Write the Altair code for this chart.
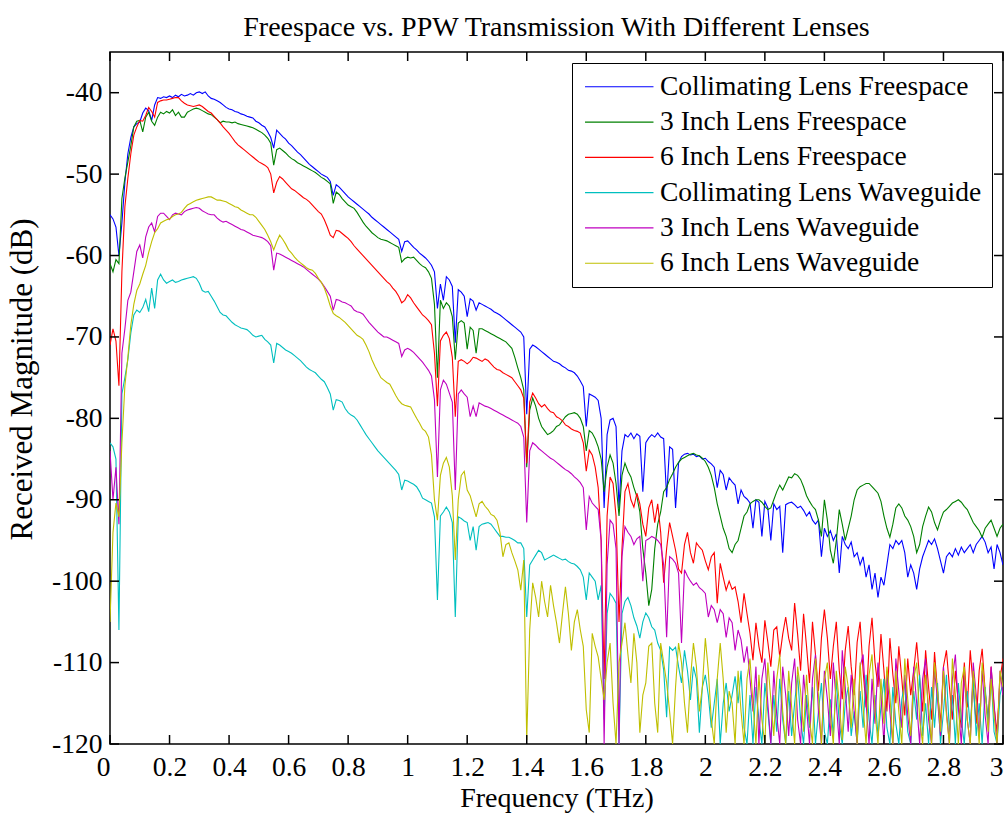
import altair as alt
import pandas as pd

# ---------------- data ----------------
FREQ = [round(i * 0.01, 2) for i in range(301)]  # THz sampling grid

SERIES = [
    "Collimating Lens Freespace",
    "3 Inch Lens Freespace",
    "6 Inch Lens Freespace",
    "Collimating Lens Waveguide",
    "3 Inch Lens Waveguide",
    "6 Inch Lens Waveguide",
]
COLORS = ["#0000ff", "#008000", "#ff0000", "#00bfbf", "#bf00bf", "#bfbf00"]

X_TICKS = [0, 0.2, 0.4, 0.6, 0.8, 1, 1.2, 1.4, 1.6, 1.8, 2, 2.2, 2.4, 2.6, 2.8, 3]
Y_TICKS = [-120, -110, -100, -90, -80, -70, -60, -50, -40]

COLL_FREE = [
    -55, -55.5, -56.5, -60, -56, -51, -47.5, -45.5, -44.2, -43.8,
    -43.6, -42.5, -41.9, -42.2, -43.4, -41.5, -40.6, -40.7, -40.5, -40.6,
    -40.4, -40.6, -40.3, -40.5, -40.2, -40.4, -40.3, -40.1, -40.3, -40.0,
    -39.9, -40.1, -39.9, -40.4, -40.7, -40.8, -41.0, -41.2, -41.5, -41.8,
    -42.0, -42.1, -42.3, -42.4, -42.6, -42.7, -42.9, -43.0, -43.1, -43.5,
    -43.7, -44.0, -44.2, -44.8, -45.5, -46.8, -44.6, -45.0, -45.4, -45.7,
    -46.2, -46.5, -46.9, -47.3, -47.6, -48.0, -48.4, -48.8, -49.1, -49.4,
    -49.7, -50.0, -50.2, -50.4, -50.9, -52.6, -51.3, -51.6, -52.0, -52.4,
    -52.8, -53.1, -53.4, -53.7, -54.0, -54.3, -54.6, -54.9, -55.3, -55.6,
    -55.9, -56.2, -56.5, -56.8, -57.1, -57.4, -57.7, -58.0, -59.5, -58.3,
    -58.2, -58.6, -59.0, -59.3, -59.7, -60.0, -60.3, -60.7, -61.2, -62.0,
    -66.5, -63.5, -65.5, -62.6, -63.0, -63.8, -70.7, -64.2, -64.5, -65.0,
    -67.5, -65.3, -65.6, -66.7, -65.8, -66.0, -66.2, -66.4, -66.6, -66.9,
    -67.1, -67.3, -67.6, -67.9, -68.2, -68.5, -68.8, -69.1, -69.4, -70.0,
    -79.5, -71.5, -71.0, -71.2, -71.5, -71.8, -72.1, -72.4, -72.7, -73.0,
    -73.1, -73.3, -73.6, -73.8, -74.1, -74.2, -74.4, -74.8, -75.4, -76.1,
    -81.0, -77.0, -77.2, -77.4, -77.8, -80.0, -91.0, -82.0, -80.2, -80.0,
    -81.0, -91.0, -84.0, -82.0, -82.3, -81.8, -82.5, -81.9, -82.2, -89.0,
    -83.0, -82.4, -82.0, -82.3, -81.8, -82.3, -82.5, -89.7, -83.5, -83.8,
    -91.0, -85.5, -84.7, -84.4, -84.3, -84.5, -84.4, -84.7, -84.6, -85.0,
    -84.9, -85.3, -85.6, -86.0, -88.5, -86.4, -86.9, -88.8, -87.3, -87.8,
    -88.2, -90.5, -88.8, -89.6, -89.9, -90.4, -93.5, -90.0, -90.3, -94.5,
    -90.2, -91.0, -95.0, -90.5, -91.2, -90.8, -96.5, -90.6, -90.4, -90.3,
    -90.6, -91.0, -90.8, -91.3, -92.0, -91.5, -92.5, -93.0, -92.5, -97.0,
    -93.5, -94.5, -93.8, -95.0, -94.2, -99.0, -94.5, -95.5, -96.0, -95.2,
    -97.0, -96.5, -98.0, -97.0, -99.5, -98.0, -101.0, -99.0, -102.0, -99.5,
    -100.5, -98.0, -95.5, -96.0, -95.0, -95.5, -95.0, -96.5, -99.5, -98.0,
    -99.0, -101.0, -98.5, -97.0, -96.0, -95.0, -95.5, -94.8, -96.0, -97.5,
    -99.0, -97.0, -96.5, -97.0, -96.0, -96.8, -95.8, -96.5, -96.0, -95.5,
    -96.5, -95.5, -95.0, -94.5, -95.2, -96.5, -95.8, -98.5, -95.5, -96.5,
    -98.0,
]

INCH3_FREE = [
    -61, -62, -60.5, -61, -53, -50.5, -48.5, -46.5, -44.2, -43.5,
    -43.4, -44.8, -43.0, -42.4, -43.5, -44.0, -43.0, -42.4, -42.6, -42.3,
    -42.5, -42.1, -42.8, -42.4, -43.0, -43.0, -42.4, -42.2, -42.0, -41.9,
    -42.0, -42.2, -42.4, -42.6, -42.7, -43.0, -43.3, -43.7, -43.5, -43.6,
    -43.6, -43.7, -43.6, -43.8, -43.9, -44.0, -44.1, -44.2, -44.3, -44.5,
    -44.7, -44.9, -45.2, -45.6, -46.2, -48.9, -47.0, -46.8, -47.1, -47.4,
    -47.8, -48.1, -48.3, -48.6, -48.8, -49.0, -49.2, -49.4, -49.6, -49.8,
    -50.1, -50.4, -50.6, -50.9, -51.2, -53.6, -52.2, -52.5, -53.0, -53.4,
    -53.8, -54.0, -54.2, -54.7, -55.3, -55.9, -56.4, -56.8, -57.2, -57.5,
    -57.8, -58.0, -58.1, -58.2, -58.4, -58.6, -58.8, -59.0, -60.8, -60.4,
    -60.2, -60.3, -60.2, -60.6, -61.0, -61.3, -61.5, -62.0, -62.8, -66.0,
    -75.0, -65.5, -66.5, -65.8, -66.2, -67.5, -72.8, -68.3, -68.0, -68.3,
    -71.5, -68.8, -69.2, -72.0, -69.0, -69.0, -69.2, -69.4, -69.6, -69.8,
    -70.0, -70.2, -70.4, -70.6, -71.0, -71.4, -72.5, -73.8, -75.0, -76.5,
    -86.0, -79.0, -77.5, -78.5, -80.0, -81.0, -81.5, -82.0, -81.8, -81.5,
    -81.0, -80.8, -80.3, -79.8, -79.5, -79.4, -79.3, -79.5, -80.0, -81.0,
    -84.0, -81.5, -81.8, -82.5, -83.5, -85.0, -89.0, -86.0, -84.5, -85.5,
    -88.0, -92.0, -87.0, -85.5, -86.5, -87.2, -88.5, -89.6, -91.5, -96.0,
    -99.0, -103.0, -101.0, -96.0, -93.0, -91.5, -89.0, -88.5, -87.5, -86.8,
    -86.0, -85.4, -85.0, -84.8, -84.6, -84.4, -84.3, -84.5, -84.6, -84.9,
    -85.3, -86.0, -87.0, -88.5, -90.5, -92.0, -93.5, -94.5, -96.0, -96.5,
    -95.5, -95.0, -93.5, -92.0, -91.5, -90.5, -90.2, -90.0, -90.0, -90.3,
    -90.8, -91.2, -91.0, -90.0, -89.0, -88.2, -88.8, -88.0, -87.2, -87.3,
    -86.8, -87.0, -87.5, -88.4, -89.5, -90.2, -90.8, -91.2, -92.5, -94.5,
    -90.0, -92.5, -96.2, -97.8, -95.0, -91.2, -93.0, -95.0, -93.5, -92.0,
    -90.0, -88.8, -88.4, -88.2, -88.0, -88.0, -88.4, -88.8, -89.2, -90.2,
    -92.0, -93.5, -94.6, -93.0, -91.0, -90.5, -91.0, -92.0, -92.5, -93.3,
    -94.5, -96.5, -95.5, -93.3, -92.0, -90.9, -91.5, -92.8, -93.7, -92.5,
    -91.5, -91.2, -90.8, -90.4, -90.2, -90.0, -90.3, -90.8, -91.2, -92.0,
    -92.8, -93.3, -93.8, -94.6, -93.5, -93.0, -92.5, -93.5, -94.5, -93.5,
    -93.0,
]

INCH6_FREE = [
    -71, -69, -70.5, -76, -62, -54, -50.5, -47.5, -45.2, -44.2,
    -43.4, -43.5, -42.8, -41.8, -42.3, -43.0, -41.2, -41.0, -40.9, -40.9,
    -40.8, -40.7, -40.6, -40.6, -41.0, -41.3, -41.5, -41.6, -41.7, -41.6,
    -41.5, -41.7, -42.0, -42.3, -42.5, -42.9, -43.3, -43.7, -44.2, -44.6,
    -45.0, -45.5, -46.0, -46.4, -46.7, -47.0, -47.3, -47.6, -47.9, -48.2,
    -48.5, -48.7, -48.9, -49.2, -50.0, -52.3, -51.0, -50.3, -50.6, -51.0,
    -51.4, -51.8, -52.0, -52.3, -52.6, -52.9, -53.1, -53.4, -53.8, -54.2,
    -54.6, -54.9, -55.6, -56.5, -57.5, -57.8, -56.9, -57.0, -57.3, -57.6,
    -57.9, -58.3, -58.8, -59.2, -59.6, -60.0, -60.4, -60.8, -61.2, -61.6,
    -62.0, -62.4, -62.8, -63.2, -63.5, -64.0, -64.4, -65.0, -65.8, -65.5,
    -64.8, -65.2, -65.8, -66.3, -66.8, -67.3, -67.6, -68.0, -68.5, -72.0,
    -78.5, -70.5, -69.8, -69.4, -70.2, -72.5, -79.8, -73.0, -72.8, -73.0,
    -73.3, -73.0, -72.5, -72.6, -72.8, -73.0, -72.7, -72.9, -73.3, -73.7,
    -74.0, -74.1, -74.4, -74.6, -74.8, -75.0, -75.5, -76.0, -76.5, -77.5,
    -85.5, -78.0, -76.9, -77.5, -78.2, -78.6, -78.3, -78.8, -79.2, -79.3,
    -79.8, -80.0, -80.3, -80.8, -81.0, -81.3, -81.5, -81.6, -81.8, -83.0,
    -86.5, -83.9, -84.5, -86.0, -88.5, -95.0, -112.0, -92.0, -87.2, -88.0,
    -92.0, -105.0, -96.0, -89.0, -88.0, -90.0, -90.9, -89.2, -90.5, -93.0,
    -94.5, -91.0, -90.0, -92.8, -90.5, -94.0, -100.2, -96.0, -92.8, -94.5,
    -96.2, -98.5, -99.0, -95.5, -94.0, -96.5, -97.8, -95.3, -95.8, -96.2,
    -97.5, -98.6, -97.0, -96.5, -102.7, -97.8, -99.5, -101.1, -100.0, -101.0,
    -100.7, -102.5, -105.1, -101.5, -104.0, -106.4, -109.7, -105.1, -108.0, -110.0,
    -104.8, -107.5, -110.5, -106.0, -105.6, -109.3, -106.5, -104.4, -107.0, -108.5,
    -102.7, -106.5, -111.0, -104.0, -108.0, -112.5, -105.0, -109.0, -113.5, -107.0,
    -103.5, -107.0, -112.0, -108.0, -105.0, -111.0, -114.5, -108.5, -105.5, -110.5,
    -114.0, -107.5, -105.0, -111.0, -115.5, -108.0, -104.5, -110.0, -113.0, -106.5,
    -111.0, -116.0, -107.0, -111.5, -115.0, -108.0, -112.0, -116.5, -109.5, -114.0,
    -111.0, -107.5, -112.0, -116.0, -108.5, -113.0, -117.0, -108.7, -113.5, -117.5,
    -110.5, -108.5, -113.0, -117.0, -111.0, -115.0, -118.0, -110.0, -115.5, -108.5,
    -113.0, -117.5, -111.0, -108.3, -113.5, -117.0, -110.5, -115.5, -118.5, -112.0,
    -109.5,
]

COLL_WG = [
    -83, -83.5, -85, -106, -77, -75, -72.8, -69.5, -67.3, -66.7,
    -67.0, -66.4, -65.4, -66.9, -64.0, -66.5, -63.0, -62.3, -63.0, -63.4,
    -63.2, -63.0, -63.3, -63.2, -63.0, -62.9, -62.8, -62.7, -62.6, -62.8,
    -63.4, -64.3, -64.5, -64.4, -65.0, -65.6, -66.3, -67.0, -67.3, -67.4,
    -67.8, -68.2, -68.5, -68.7, -68.9, -69.0, -69.1, -69.4, -69.8, -70.0,
    -69.9, -69.8, -70.3, -70.6, -71.0, -73.2, -70.8, -71.0, -71.3, -71.6,
    -71.8, -72.0, -72.3, -72.6, -72.9, -73.3, -73.7, -74.0, -74.2, -74.4,
    -74.8, -75.2, -75.5, -76.2, -77.0, -79.0, -77.7, -77.8, -78.0, -78.8,
    -79.3, -79.6, -79.8, -80.2, -80.8, -81.4, -82.0, -82.5, -83.0, -83.5,
    -84.0, -84.4, -84.8, -85.2, -85.6, -86.0, -86.4, -86.9, -88.8, -87.6,
    -87.7, -87.9, -88.1, -88.4, -89.0, -89.8, -90.0, -90.2, -90.4, -92.1,
    -102.3, -92.0, -91.5, -90.9, -91.5, -92.8, -104.4, -92.1, -92.3, -92.6,
    -92.8, -95.0, -93.3, -96.2, -93.3, -93.0, -92.9, -92.8, -93.0, -93.5,
    -94.0, -94.5, -94.5, -94.6, -94.6, -94.8, -95.0, -95.3, -95.3, -96.0,
    -104.4, -98.0, -97.4, -96.8, -96.2, -96.5, -97.4, -97.2, -97.0, -96.8,
    -97.0, -97.2, -97.4, -97.3, -97.6, -97.8, -97.9, -98.2, -98.6, -99.5,
    -102.3, -99.0, -99.5, -100.0, -102.3, -100.5, -117.0, -104.0, -101.5, -102.0,
    -102.7, -120.0, -104.0, -102.5, -102.0, -103.0, -104.5, -105.5, -107.0, -105.0,
    -103.9, -104.5, -105.6, -106.0, -107.6, -108.5, -110.9, -116.7, -108.1, -108.5,
    -108.1, -110.5, -112.5, -108.5, -111.0, -114.6, -110.5, -112.0, -118.6, -113.0,
    -111.5, -114.0, -118.0, -115.0, -112.0, -120.0, -115.0, -112.5, -116.0, -114.0,
    -111.7, -115.0, -111.0, -118.0, -120.0, -114.0, -120.0, -113.0, -117.0, -120.0,
    -112.5, -116.0, -120.0, -114.0, -118.5, -112.0, -117.0, -120.0, -113.5, -119.0,
    -115.0, -111.5, -117.0, -120.0, -114.0, -118.0, -113.0, -120.0, -116.0, -112.5,
    -118.5, -120.0, -114.5, -119.0, -112.0, -117.5, -120.0, -115.0, -113.0, -119.0,
    -116.0, -120.0, -113.5, -118.0, -111.5, -117.0, -120.0, -114.0, -119.0, -115.5,
    -112.0, -118.0, -120.0, -113.0, -117.5, -120.0, -114.5, -112.5, -118.5, -120.0,
    -113.5, -117.0, -111.5, -119.0, -115.0, -120.0, -113.0, -118.0, -112.5, -120.0,
    -116.0, -111.5, -118.5, -114.0, -120.0, -112.5, -117.0, -120.0, -113.5, -118.0,
    -112.0, -119.0, -115.0, -120.0, -113.0, -117.5, -111.5, -118.5, -120.0, -114.0,
    -112.5,
]

INCH3_WG = [
    -84, -90, -86, -93, -72, -69, -65.5, -64.5, -62.0, -59.5,
    -58.7, -60.3, -57.7, -56.5, -56.0, -57.1, -55.2, -54.8, -54.8, -55.2,
    -55.6, -55.0, -54.8, -54.9, -55.0, -54.6, -54.4, -54.3, -54.2, -54.1,
    -54.2, -54.5, -54.7, -54.9, -55.0, -55.0, -55.4, -55.7, -55.9, -55.8,
    -56.0, -56.2, -56.4, -56.6, -56.8, -56.9, -57.1, -57.3, -57.5, -57.6,
    -57.7, -57.8, -58.0, -58.3, -58.8, -61.8, -59.7, -59.8, -60.0, -60.2,
    -60.4, -60.6, -60.8, -61.0, -61.2, -61.4, -61.7, -62.0, -62.3, -62.6,
    -62.9, -63.3, -63.8, -64.4, -65.0, -66.7, -65.4, -65.5, -65.7, -65.8,
    -66.0, -66.2, -66.7, -66.9, -67.0, -67.2, -67.7, -68.2, -68.6, -69.0,
    -69.4, -69.7, -70.0, -70.0, -70.2, -70.4, -70.6, -70.8, -72.4, -71.6,
    -71.4, -71.6, -71.9, -72.3, -72.7, -73.1, -73.6, -74.1, -74.8, -77.7,
    -87.2, -76.5, -75.3, -75.8, -76.9, -78.0, -88.8, -77.0, -76.5, -77.0,
    -77.4, -79.8, -78.5, -79.8, -78.1, -78.3, -78.5, -78.6, -78.8, -79.0,
    -79.2, -79.4, -79.6, -79.8, -80.0, -80.2, -80.4, -80.6, -81.0, -82.3,
    -92.8, -84.0, -83.0, -83.3, -83.7, -84.0, -84.3, -84.6, -84.9, -85.1,
    -85.4, -85.7, -86.0, -86.3, -86.5, -86.8, -87.2, -87.5, -87.9, -88.5,
    -93.7, -89.6, -90.4, -90.8, -91.2, -95.0, -120.0, -98.0, -92.5, -93.0,
    -96.0, -120.0, -97.0, -93.3, -94.0, -94.5, -95.5, -94.8, -94.5, -100.0,
    -95.0, -94.8, -94.5, -94.7, -95.0, -95.5, -98.0, -106.9, -97.0, -97.3,
    -97.8, -99.0, -107.6, -98.6, -99.4, -100.0, -100.5, -100.2, -100.8, -101.1,
    -101.5, -104.4, -103.0, -103.5, -105.1, -103.5, -104.0, -106.9, -104.5, -105.1,
    -108.5, -106.0, -107.2, -110.0, -108.0, -112.0, -116.0, -110.5, -120.0, -112.0,
    -109.5, -115.0, -120.0, -111.0, -116.5, -120.0, -110.5, -114.0, -119.0, -112.5,
    -109.5, -117.0, -120.0, -111.5, -115.5, -120.0, -112.0, -109.0, -116.0, -120.0,
    -111.0, -114.5, -119.0, -110.0, -115.0, -120.0, -108.5, -113.0, -118.5, -111.5,
    -116.0, -120.0, -110.5, -109.0, -115.0, -120.0, -112.0, -117.5, -110.0, -114.0,
    -120.0, -111.0, -116.0, -120.0, -109.5, -113.5, -118.0, -111.5, -116.5, -120.0,
    -110.5, -115.0, -120.0, -112.0, -109.5, -117.0, -120.0, -111.0, -114.5, -119.0,
    -110.5, -116.0, -120.0, -112.0, -109.0, -115.5, -120.0, -111.5, -117.0, -120.0,
    -110.0, -114.0, -119.0, -111.0, -116.5, -120.0, -110.5, -115.0, -120.0, -111.0,
    -114.0,
]

INCH6_WG = [
    -105, -94, -90.4, -92.1, -83, -76, -72.5, -68.5, -66.0, -64.3,
    -63.5, -62.3, -61.2, -59.6, -58.3, -57.2, -56.7, -56.0, -55.8, -55.6,
    -55.5, -55.2, -55.0, -54.9, -54.7, -54.2, -53.8, -53.6, -53.4, -53.2,
    -53.1, -53.0, -52.9, -52.8, -52.8, -53.0, -53.2, -53.2, -53.3, -53.4,
    -53.6, -53.8, -54.0, -54.1, -54.4, -54.6, -54.8, -55.0, -55.0, -55.3,
    -55.8, -56.3, -56.8, -57.5, -58.3, -59.3, -58.3, -57.5, -58.0, -58.6,
    -59.3, -59.7, -60.2, -60.6, -60.9, -61.2, -61.5, -61.7, -61.8, -62.2,
    -62.8, -63.3, -64.0, -65.0, -66.2, -67.1, -67.4, -67.6, -67.9, -68.2,
    -68.6, -69.0, -69.4, -69.8, -70.0, -70.3, -71.0, -71.8, -72.8, -73.6,
    -74.3, -75.0, -75.3, -75.6, -75.8, -76.5, -77.2, -77.8, -78.2, -78.4,
    -78.5, -78.6, -79.3, -80.0, -80.6, -81.3, -81.6, -82.3, -84.5, -90.0,
    -92.5, -87.0, -85.5, -84.8, -86.0, -89.5, -97.4, -90.0, -87.0, -86.5,
    -88.8, -89.5, -90.8, -92.1, -90.5, -90.2, -90.8, -91.2, -91.8, -92.0,
    -92.5, -94.0, -97.0, -95.5, -95.3, -96.5, -97.5, -98.6, -101.1, -97.4,
    -119.5, -106.0, -100.2, -102.0, -104.4, -100.0, -102.5, -104.4, -100.5, -103.0,
    -105.1, -107.6, -104.0, -100.7, -104.0, -108.5, -105.0, -103.5, -106.0, -108.0,
    -115.8, -118.6, -106.4, -108.0, -109.3, -112.0, -114.6, -110.0, -107.6, -115.0,
    -120.0, -110.0, -107.6, -105.1, -109.0, -112.5, -106.4, -110.0, -118.6, -114.0,
    -112.5, -108.0, -107.6, -115.0, -118.6, -107.6, -110.0, -112.5, -116.0, -120.0,
    -113.0, -107.6, -110.0, -115.0, -118.6, -112.0, -107.6, -110.5, -116.0, -113.0,
    -107.0, -111.0, -117.0, -120.0, -112.0, -107.6, -112.0, -118.6, -113.5, -115.0,
    -120.0, -111.0, -116.0, -120.0, -112.0, -109.5, -115.0, -120.0, -111.5, -117.0,
    -120.0, -110.0, -114.5, -119.0, -112.0, -109.0, -116.0, -120.0, -111.0, -115.5,
    -120.0, -110.5, -113.5, -118.5, -111.5, -117.0, -120.0, -109.5, -114.0, -120.0,
    -112.0, -110.0, -116.5, -120.0, -111.0, -115.0, -119.5, -110.5, -113.0, -118.0,
    -112.0, -120.0, -110.0, -115.5, -120.0, -111.5, -109.0, -116.0, -120.0, -112.0,
    -117.5, -110.5, -114.0, -120.0, -111.0, -116.0, -120.0, -109.5, -114.5, -119.0,
    -112.0, -110.0, -117.0, -120.0, -111.5, -115.5, -120.0, -110.0, -113.5, -118.5,
    -111.0, -116.5, -120.0, -109.5, -114.0, -120.0, -112.5, -110.5, -117.0, -120.0,
    -111.0, -115.0, -120.0, -110.0, -113.5, -118.5, -112.0, -116.5, -120.0, -111.0,
    -113.0,
]

VALUES = [COLL_FREE, INCH3_FREE, INCH6_FREE, COLL_WG, INCH3_WG, INCH6_WG]

rows = []
for name, vals in zip(SERIES, VALUES):
    assert len(vals) == len(FREQ), (name, len(vals))
    for f, v in zip(FREQ, vals):
        rows.append({"freq": f, "db": v, "series": name})
df = pd.DataFrame(rows)

# ---------------- chart ----------------
W, H = 893, 692
FONT = "Liberation Serif"
TICK_LEN = 9          # MATLAB-style inward tick length, px
TICK_W = 1.5

x_scale = alt.Scale(domain=[0, 3], nice=False, zero=False)
y_scale = alt.Scale(domain=[-120, -35], nice=False, zero=False)
color_scale = alt.Scale(domain=SERIES, range=COLORS)

x_axis_main = alt.Axis(
    orient="bottom", values=X_TICKS, labelExpr="'' + datum.value",
    ticks=False, tickSize=0, domain=False, grid=False,
    labelFont=FONT, labelFontSize=27.5, labelColor="black", labelPadding=9,
    labelAlign={"condition": {"test": "datum.value == 0 || datum.value == 3", "value": "right"}, "value": "center"},
    title="Frequency (THz)", titleFont=FONT, titleFontSize=28, titleFontWeight="normal",
    titleColor="black", titleX=W / 2, titleY=62, titleBaseline="alphabetic", titleAnchor="middle",
)
y_axis_main = alt.Axis(
    orient="left", values=Y_TICKS, labelExpr="'' + datum.value",
    ticks=False, tickSize=0, domain=False, grid=False,
    labelFont=FONT, labelFontSize=27.5, labelColor="black", labelPadding=8,
    title="Received Magnitude (dB)", titleFont=FONT, titleFontSize=31, titleFontWeight="normal",
    titleColor="black", titleX=-79, titleY=327, titleBaseline="alphabetic", titleAnchor="middle",
    titleAngle=270,
)

legend = alt.Legend(
    title=None, orient="top-right", offset=11,
    symbolType="M-4,0L4,0", symbolSize=293, symbolStrokeWidth=1.2, symbolOffset=23.5,
    labelFont=FONT, labelFontSize=27.5, labelColor="black", labelLimit=0, labelOffset=27,
    padding=10, rowPadding=6.3, strokeColor="black", fillColor="white", cornerRadius=0,
)

layers = []
for i, name in enumerate(SERIES):
    layers.append(
        alt.Chart(df)
        .transform_filter(alt.datum.series == name)
        .mark_line(strokeWidth=1.1, clip=True)
        .encode(
            x=alt.X("freq:Q", scale=x_scale, axis=x_axis_main if i == 0 else None),
            y=alt.Y("db:Q", scale=y_scale, axis=y_axis_main if i == 0 else None),
            color=alt.Color("series:N", scale=color_scale, legend=legend if i == 0 else None),
        )
    )

# inward tick marks on all four sides of the box (positions from the scales)
xt_df = pd.DataFrame({"freq": X_TICKS})
yt_df = pd.DataFrame({"db": Y_TICKS})


def x_ticks(y_from, y_to):
    return alt.Chart(xt_df).mark_rule(color="black", strokeWidth=TICK_W).encode(
        x=alt.X("freq:Q", scale=x_scale, axis=None),
        y=alt.value(y_from), y2=alt.value(y_to),
    )


def y_ticks(x_from, x_to):
    return alt.Chart(yt_df).mark_rule(color="black", strokeWidth=TICK_W).encode(
        y=alt.Y("db:Q", scale=y_scale, axis=None),
        x=alt.value(x_from), x2=alt.value(x_to),
    )


layers += [
    x_ticks(H - TICK_LEN, H),   # bottom edge
    x_ticks(0, TICK_LEN),       # top edge
    y_ticks(0, TICK_LEN),       # left edge
    y_ticks(W - TICK_LEN, W),   # right edge
]

chart = (
    alt.layer(*layers)
    .resolve_axis(x="independent", y="independent")
    .properties(
        width=W, height=H,
        autosize=alt.AutoSizeParams(type="none"),
        padding={"left": 110, "top": 52, "right": 2, "bottom": 70},
        title=alt.TitleParams(
            "Freespace vs. PPW Transmission With Different Lenses",
            font=FONT, fontSize=28, fontWeight="normal", color="black",
            anchor="middle", frame="group", offset=9,
        ),
    )
    .configure(background="white")
    .configure_view(stroke="black", strokeWidth=1.5)
)

chart.save("out.html", embed_options={"renderer": "svg", "actions": False})
